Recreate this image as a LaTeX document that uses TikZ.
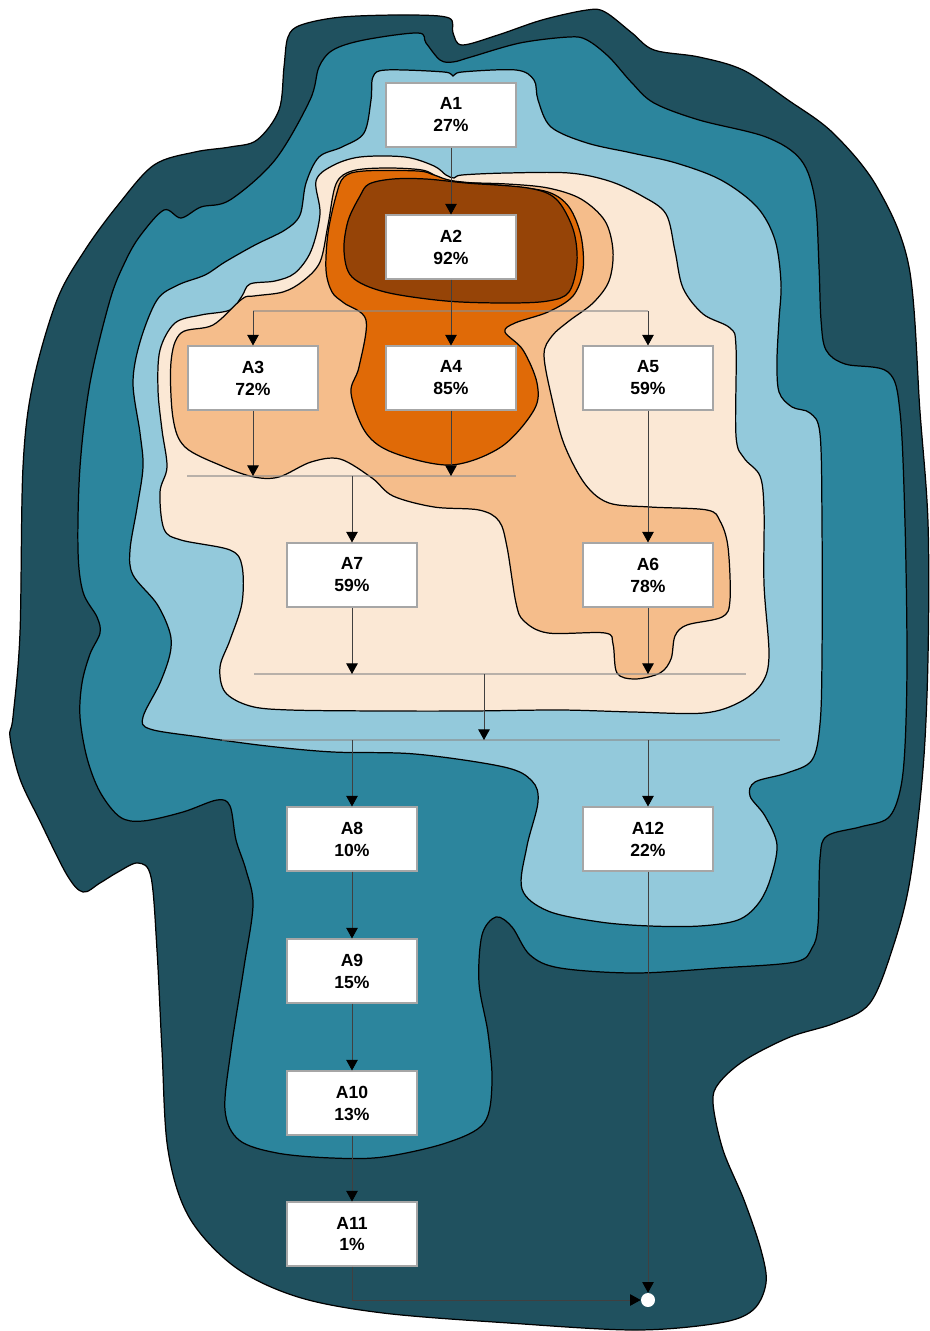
\documentclass[tikz,border=0pt]{standalone}
\usepackage{fontspec}
\setmainfont{Liberation Sans}
\usetikzlibrary{arrows.meta,calc}

\definecolor{zoneA}{HTML}{20515F}
\definecolor{zoneB}{HTML}{2C859D}
\definecolor{zoneC}{HTML}{93C9DB}
\definecolor{zoneD}{HTML}{FBE8D5}
\definecolor{zoneE}{HTML}{F5BD8B}
\definecolor{zoneF}{HTML}{E06A07}
\definecolor{zoneG}{HTML}{964407}

\begin{document}
\begin{tikzpicture}[
    x=0.02cm, y=-0.02cm,
    font=\bfseries\fontsize{10}{12.5}\selectfont,
    zone/.style={draw=black, line width=0.7pt},
    box/.style={draw=black!35, fill=white, line width=0.6pt, align=center,
      minimum width=2.6cm, minimum height=1.28cm, inner sep=0pt},
    flow/.style={black!75, line width=0.5pt, -{Triangle[width=6.5pt,length=6pt,black]}},
    bar/.style={black!45, opacity=0.6, line width=1pt},
    endpt/.style={circle, fill=white, minimum size=0.28cm, inner sep=0pt}
  ]
  \useasboundingbox (0,0) rectangle (929,1331);

  % nested regions, outside in
  \filldraw[zone, fill=zoneA] plot[smooth cycle, tension=0.55] coordinates {
    (288,37)(301,25)(342,17)(409,15)(449,18)(453,33)(462,45)(498,35)(542,20)(587,10)
    (605,12)(632,33)(654,50)(699,57)(743,70)(788,100)(833,133)(877,187)(909,267)(920,412)
    (928,523)(928,657)(923,769)(910,880)(893,947)(870,1003)(835,1023)(790,1037)(745,1060)
    (719,1083)(713,1103)(723,1150)(744,1200)(761,1250)(766,1283)(753,1310)(719,1323)
    (635,1330)(509,1323)(383,1313)(298,1297)(235,1267)(189,1217)(168,1150)(162,1050)
    (157,950)(151,877)(138,863)(118,872)(100,883)(83,892)(67,875)(40,821)(20,779)(10,737)
    (13,717)(20,633)(23,467)(33,383)(57,300)(85,250)(118,205)(154,165)(195,152)(230,147)
    (257,140)(279,110)(284,67)};
  \filldraw[zone, fill=zoneB] plot[smooth cycle, tension=0.55] coordinates {
    (230,200)(275,160)(310,100)(319,67)(333,50)(364,40)(418,33)(426,43)(440,60)(453,62)
    (471,57)(520,43)(569,37)(587,40)(609,57)(632,83)(654,103)(699,120)(766,137)(801,160)
    (815,200)(819,267)(821,320)(826,350)(845,364)(888,372)(900,412)(905,523)(907,657)
    (905,746)(900,791)(888,818)(860,827)(827,836)(820,858)(818,925)(812,948)(795,962)
    (719,968)(635,973)(560,968)(530,955)(512,927)(496,917)(482,935)(479,983)(488,1033)
    (492,1083)(484,1123)(446,1143)(383,1157)(332,1158)(277,1153)(239,1140)(225,1110)
    (231,1050)(244,967)(253,905)(246,870)(236,840)(230,806)(217,800)(183,812)(143,821)
    (120,817)(100,792)(87,758)(80,717)(82,683)(90,654)(100,633)(97,617)(83,592)(78,550)
    (80,467)(90,383)(110,300)(125,262)(140,236)(164,210)(181,218)(201,207)};
  \filldraw[zone, fill=zoneC] plot[smooth cycle, tension=0.55] coordinates {
    (373,77)(386,70)(444,72)(453,76)(462,72)(516,70)(534,80)(538,100)(551,127)(587,143)
    (632,153)(676,163)(721,180)(757,207)(775,240)(781,283)(779,320)(777,360)(779,392)
    (792,407)(810,413)(820,434)(822,523)(822,657)(820,724)(812,760)(787,773)(755,782)
    (750,796)(765,816)(777,845)(770,880)(758,904)(738,920)(700,926)(650,926)(600,922)
    (548,911)(522,889)(527,846)(538,802)(532,781)(504,767)(415,754)(333,752)(267,746)
    (200,737)(150,729)(143,717)(160,683)(170,654)(170,633)(157,604)(133,575)(130,550)
    (137,508)(143,467)(140,433)(133,383)(140,342)(157,300)(178,285)(205,275)(225,262)
    (255,245)(285,230)(300,215)(306,183)(319,157)(342,147)(364,133)(371,100)};
  \filldraw[zone, fill=zoneD] plot[smooth cycle, tension=0.55] coordinates {
    (316,181)(332,166)(360,157)(405,157)(434,166)(446,175)(454,178)(462,175)(507,173)
    (569,173)(609,181)(642,196)(666,214)(675,251)(683,288)(703,314)(730,328)(736,347)
    (736,436)(744,458)(760,476)(764,510)(764,584)(769,655)(762,683)(740,702)(704,713)
    (633,712)(560,710)(470,711)(385,711)(290,710)(250,706)(225,692)(220,667)(230,640)
    (242,603)(242,566)(230,550)(181,540)(164,529)(160,492)(167,467)(162,430)(158,390)
    (160,350)(175,323)(201,315)(230,310)(242,296)(250,284)(275,281)(295,273)(311,251)
    (320,214)};
  \filldraw[zone, fill=zoneE] plot[smooth cycle, tension=0.55] coordinates {
    (336,184)(352,171)(385,168)(422,170)(438,177)(454,182)(507,184)(548,188)(581,199)
    (605,221)(613,251)(609,281)(593,303)(569,321)(552,336)(544,355)(552,399)(564,444)
    (585,484)(609,503)(650,507)(707,510)(720,521)(728,547)(730,600)(722,617)(687,625)
    (675,636)(671,659)(660,673)(635,679)(617,673)(613,644)(605,633)(548,633)(524,621)
    (516,603)(507,547)(499,521)(479,510)(434,507)(393,496)(372,478)(340,459)(311,462)
    (279,477)(254,477)(222,466)(185,447)(173,418)(171,362)(181,333)(213,325)(242,299)
    (254,296)(283,292)(303,281)(320,262)(328,225)};
  \filldraw[zone, fill=zoneF] plot[smooth cycle, tension=0.55] coordinates {
    (344,177)(364,171)(418,171)(434,175)(454,181)(507,186)(548,192)(569,207)(581,236)
    (583,270)(573,296)(548,312)(515,323)(505,332)(523,350)(537,383)(534,410)(501,447)
    (451,465)(394,453)(366,433)(351,393)(359,367)(366,320)(344,303)(332,292)(326,270)
    (328,233)(336,196)};
  \filldraw[zone, fill=zoneG] plot[smooth cycle, tension=0.55] coordinates {
    (369,184)(393,179)(426,179)(466,183)(528,188)(556,199)(573,229)(577,262)(569,292)
    (548,301)(507,303)(446,301)(385,292)(352,277)(344,251)(348,221)(360,196)};

  % activities
  \node[box] (a1) at (451,115) {A1\\27\%};
  \node[box] (a2) at (451,247) {A2\\92\%};
  \node[box] (a3) at (253,378) {A3\\72\%};
  \node[box] (a4) at (451,378) {A4\\85\%};
  \node[box] (a5) at (648,378) {A5\\59\%};
  \node[box] (a7) at (352,575) {A7\\59\%};
  \node[box] (a6) at (648,575) {A6\\78\%};
  \node[box] (a8) at (352,839) {A8\\10\%};
  \node[box] (a12) at (648,839) {A12\\22\%};
  \node[box] (a9) at (352,971) {A9\\15\%};
  \node[box] (a10) at (352,1103) {A10\\13\%};
  \node[box] (a11) at (352,1234) {A11\\1\%};
  \node[endpt] (finish) at (648,1300) {};

  % split and join bars
  \coordinate (s1l) at (253,311);
  \coordinate (s1r) at (648,311);
  \coordinate (j1l) at (187,476);
  \coordinate (j1r) at (516,476);
  \coordinate (j2l) at (254,674);
  \coordinate (j2r) at (746,674);
  \coordinate (j2m) at (484,674);
  \coordinate (s2l) at (222,740);
  \coordinate (s2r) at (780,740);
  \draw[bar] (s1l) -- (s1r);
  \draw[bar] (j1l) -- (j1r);
  \draw[bar] (j2l) -- (j2r);
  \draw[bar] (s2l) -- (s2r);

  \draw[flow] (a1) -- (a2);
  \draw[flow] (a2) -- (a4);
  \draw[flow] (s1l) -- (a3);
  \draw[flow] (s1r) -- (a5);
  \draw[flow] (a3) -- (a3 |- j1l);
  \draw[flow] (a4) -- (a4 |- j1l);
  \draw[flow] (a7 |- j1l) -- (a7);
  \draw[flow] (a5) -- (a6);
  \draw[flow] (a7) -- (a7 |- j2l);
  \draw[flow] (a6) -- (a6 |- j2l);
  \draw[flow] (j2m) -- (j2m |- s2l);
  \draw[flow] (a8 |- s2l) -- (a8);
  \draw[flow] (a12 |- s2l) -- (a12);
  \draw[flow] (a8) -- (a9);
  \draw[flow] (a9) -- (a10);
  \draw[flow] (a10) -- (a11);
  \draw[flow] (a11) |- (finish);
  \draw[flow] (a12) -- (finish);
\end{tikzpicture}
\end{document}
